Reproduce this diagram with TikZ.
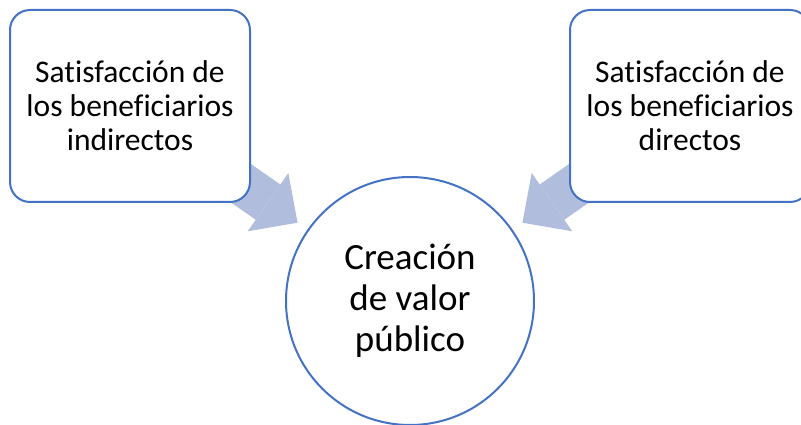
\documentclass[tikz,border=0pt]{standalone}
\usepackage{fontspec}
\setmainfont{Carlito}[Ligatures=CommonOff]
\usetikzlibrary{arrows.meta,backgrounds}
\definecolor{borde}{RGB}{68,114,196}
\definecolor{flecha}{RGB}{176,189,221}
\tikzset{
    caja/.style={draw=borde, line width=2pt, fill=white, rounded corners=20pt,
        minimum width=240pt, minimum height=192pt, align=center, inner sep=0pt,
        font=\fontsize{31.5}{34}\selectfont},
    valor/.style={circle, draw=borde, line width=2pt, fill=white,
        minimum size=248pt, inner sep=0pt, align=center,
        font=\fontsize{37}{41}\selectfont},
    gruesa/.style={draw=flecha, line width=43pt, shorten >=12pt,
        -{Triangle[width=71pt,length=36pt,line width=0pt]}}
}
\begin{document}
\begin{tikzpicture}[x=1pt,y=-1pt]
    \useasboundingbox (0,0) rectangle (801,425);
    \node[caja] (indirectos) at (130,106) {Satisfacción de\\los beneficiarios\\indirectos};
    \node[caja] (directos) at (690,106) {Satisfacción de\\los beneficiarios\\directos};
    \node[valor] (creacion) at (410,301) {Creación\\de valor\\público};
    \begin{scope}[on background layer]
        \draw[gruesa] (indirectos.center) -- (creacion);
        \draw[gruesa] (directos.center) -- (creacion);
    \end{scope}
\end{tikzpicture}
\end{document}
